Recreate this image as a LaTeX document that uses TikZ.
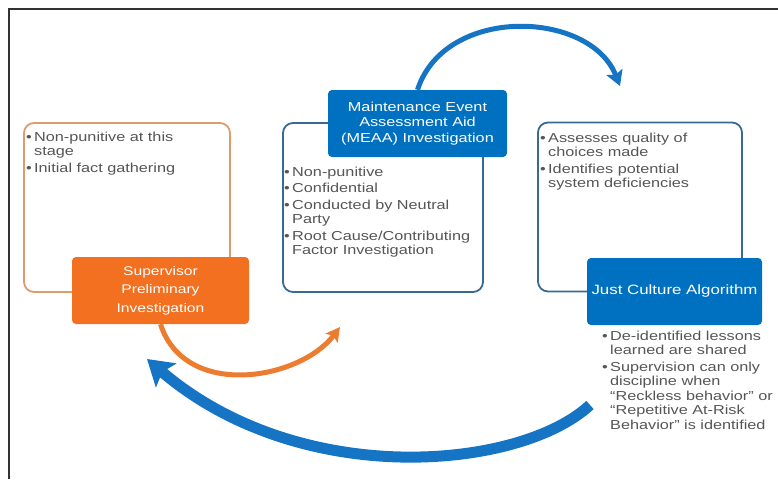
\documentclass[tikz,border=0pt]{standalone}
\usepackage{fontspec}
\setmainfont[FakeStretch=1.25]{Liberation Sans}
\usetikzlibrary{arrows.meta}
\definecolor{supOrange}{RGB}{242,112,32}
\definecolor{arcOrange}{RGB}{236,124,48}
\definecolor{meaaBlue}{RGB}{0,112,192}
\definecolor{arcBlue}{RGB}{22,116,196}
\definecolor{edgeBlue}{RGB}{58,106,148}
\definecolor{edgeOrange}{RGB}{224,156,104}
\definecolor{txtGray}{RGB}{85,85,85}
\newcommand{\bul}{\makebox[8pt][l]{\textbullet}}
\newcommand{\ind}{\hspace*{8pt}}

\begin{document}
\begin{tikzpicture}[x=1pt, y=-1pt,
            outbox/.style={draw, rounded corners=10pt, line width=1.8pt, fill=white, minimum height=169pt},
            titlebox/.style={rounded corners=4pt, text=white, align=center, minimum height=67pt, inner sep=2pt},
            bullets/.style={anchor=north west, inner sep=0pt, align=left, text=txtGray, font=\fontsize{13}{14.5}\selectfont},
            frame/.style={draw=black!80, line width=2pt},
            bluearc/.style={draw=arcBlue, line width=5pt, -{Stealth[length=15pt, width=17pt, inset=3pt]}},
            orangearc/.style={draw=arcOrange, line width=5pt, -{Stealth[length=14pt, width=15pt, inset=3pt]}},
            backarc/.style={draw=arcBlue, line width=11pt, -{Stealth[length=25pt, width=31pt, inset=5pt]}}
        ]

        \useasboundingbox (0,0) rectangle (778,479);
        \draw[frame] (9,479) -- (9,9) -- (778,9);

        % outline boxes
        \node[outbox, draw=edgeOrange, minimum width=206pt] (supout) at (127,207.5) {};
        \node[outbox, draw=edgeBlue, minimum width=200pt] (meaaout) at (383,207.5) {};
        \node[outbox, draw=edgeBlue, minimum width=204pt] (jcaout) at (640,207) {};

        % end points of the arcs
        \coordinate (topend) at (620,86);
        \coordinate (supend) at (340,327);
        \coordinate (backstart) at (590,405);
        \coordinate (backend) at (147,359);

        % title boxes
        \node[titlebox, fill=supOrange, minimum width=177pt, font=\fontsize{12.5}{18.5}\selectfont] (sup) at (160.5,290.5) {Supervisor\\Preliminary\\Investigation};
        \node[titlebox, fill=meaaBlue, minimum width=179pt, font=\fontsize{13}{15.5}\selectfont] (meaa) at (417.5,123.5) {Maintenance Event\\Assessment Aid\\(MEAA) Investigation};
        \node[titlebox, fill=meaaBlue, minimum width=175pt, font=\fontsize{13.5}{16}\selectfont] (jca) at (674.5,291.5) {Just Culture Algorithm};

        % process arcs
        \draw[bluearc] (meaa.north) .. controls (445,5) and (590,10) .. (topend);
        \draw[orangearc] (sup.south) .. controls (185,400) and (300,380) .. (supend);
        \draw[backarc] (backstart) .. controls (520,470) and (300,490) .. (backend);

        % bullet lists
        \node[bullets] (supnotes) at (26,131.5) {\bul Non-punitive at this\\\ind stage\\[2pt]\bul Initial fact gathering};
        \node[bullets] (meaanotes) at (284,166.5) {\bul Non-punitive\\[2pt]\bul Confidential\\[2pt]\bul Conducted by Neutral\\\ind Party\\[2pt]\bul Root Cause/Contributing\\\ind Factor Investigation};
        \node[bullets] (jcanotes) at (540,132.5) {\bul Assesses quality of\\\ind choices made\\[2pt]\bul Identifies potential\\\ind system deficiencies};
        \node[bullets] (lessons) at (602,330.5) {\bul De-identified lessons\\\ind learned are shared\\[2pt]\bul Supervision can only\\\ind discipline when\\\ind “Reckless behavior” or\\\ind “Repetitive At-Risk\\\ind Behavior” is identified};

    \end{tikzpicture}
\end{document}
